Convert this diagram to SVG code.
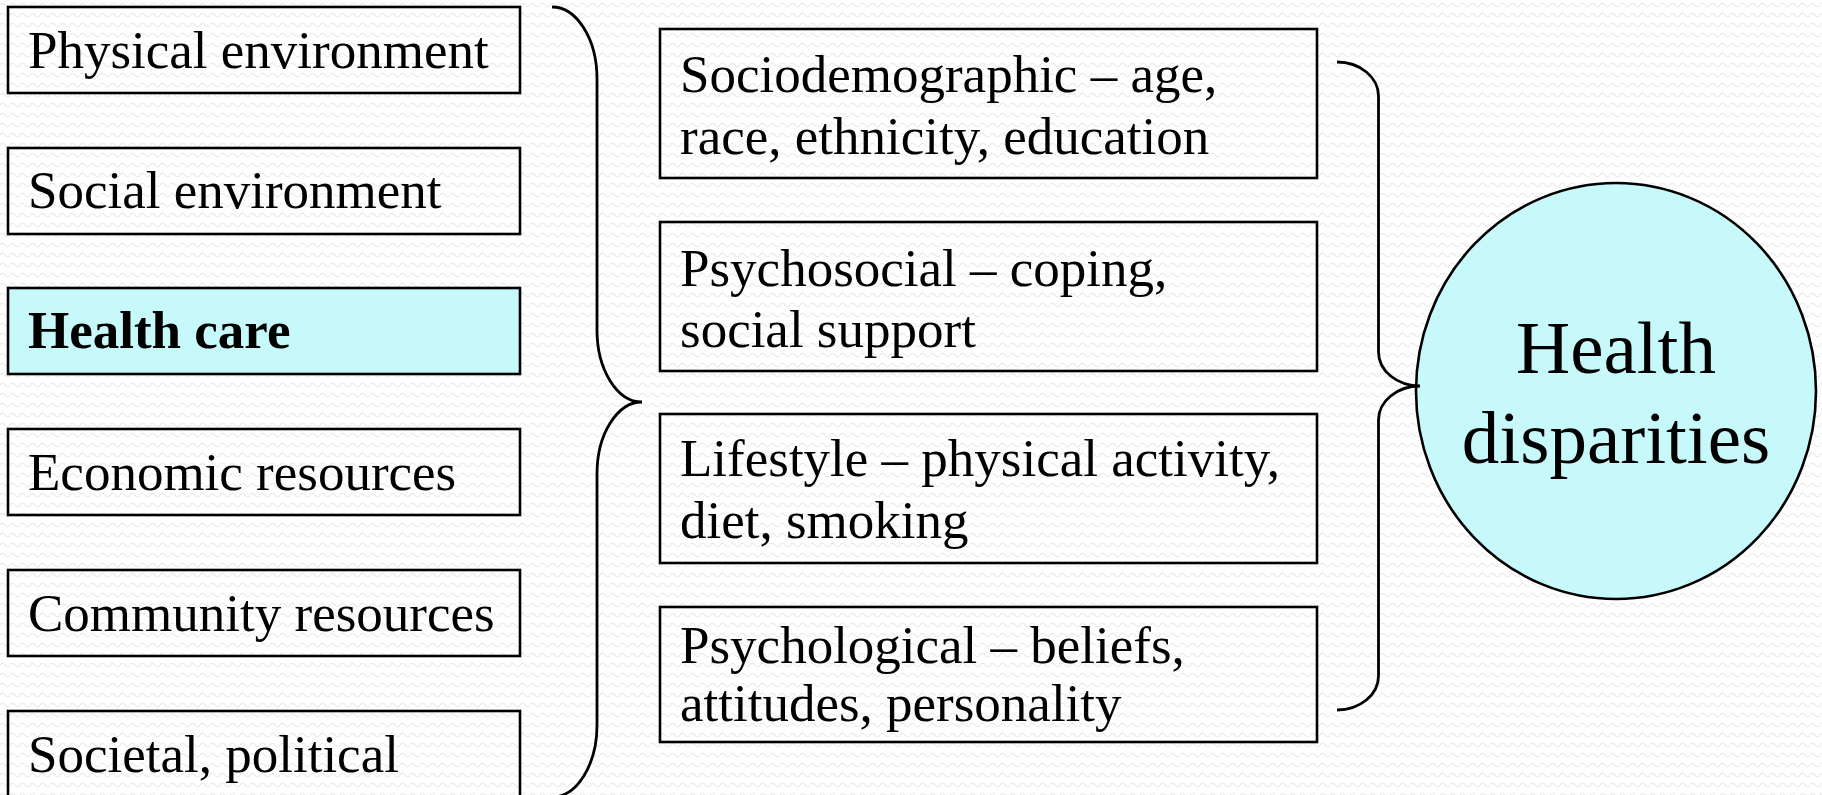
<svg xmlns="http://www.w3.org/2000/svg" width="1822" height="795" viewBox="0 0 1822 795">
  <defs>
    <pattern id="wave" width="10" height="10" patternUnits="userSpaceOnUse">
      <path d="M0,5 Q2.5,1.5 5,5 T10,5" fill="none" stroke="#e9e9e9" stroke-width="1.2"/>
    </pattern>
    <style>
      .box { fill: none; stroke: #000; stroke-width: 2.6; }
      .hi { fill: #c8f9fa; }
      .lbl { font-family: "Liberation Serif", "Times New Roman", serif; font-size: 53px; fill: #000; }
      .bold { font-weight: bold; }
      .big { font-family: "Liberation Serif", "Times New Roman", serif; font-size: 75px; fill: #000; text-anchor: middle; }
      .brace { fill: none; stroke: #000; stroke-width: 2.8; }
    </style>
  </defs>

  <!-- textured background -->
  <rect width="1822" height="795" fill="#ffffff"/>
  <rect width="1822" height="795" fill="url(#wave)"/>

  <!-- left column: determinants -->
  <g id="physical-environment">
    <rect class="box" x="8" y="7" width="512" height="86"/>
    <text class="lbl" x="28" y="68">Physical environment</text>
  </g>
  <g id="social-environment">
    <rect class="box" x="8" y="148" width="512" height="86"/>
    <text class="lbl" x="28" y="208">Social environment</text>
  </g>
  <g id="health-care">
    <rect class="box hi" x="8" y="288" width="512" height="86"/>
    <text class="lbl bold" x="28" y="348">Health care</text>
  </g>
  <g id="economic-resources">
    <rect class="box" x="8" y="429" width="512" height="86"/>
    <text class="lbl" x="28" y="490">Economic resources</text>
  </g>
  <g id="community-resources">
    <rect class="box" x="8" y="570" width="512" height="86"/>
    <text class="lbl" x="28" y="631">Community resources</text>
  </g>
  <g id="societal-political">
    <rect class="box" x="8" y="711" width="512" height="110"/>
    <text class="lbl" x="28" y="772">Societal, political</text>
  </g>

  <!-- middle column: individual factors -->
  <g id="sociodemographic">
    <rect class="box" x="660" y="29" width="657" height="149"/>
    <text class="lbl" x="680" y="92">Sociodemographic – age,</text>
    <text class="lbl" x="680" y="154">race, ethnicity, education</text>
  </g>
  <g id="psychosocial">
    <rect class="box" x="660" y="222" width="657" height="149"/>
    <text class="lbl" x="680" y="286">Psychosocial – coping,</text>
    <text class="lbl" x="680" y="347">social support</text>
  </g>
  <g id="lifestyle">
    <rect class="box" x="660" y="414" width="657" height="149"/>
    <text class="lbl" x="680" y="476">Lifestyle – physical activity,</text>
    <text class="lbl" x="680" y="538">diet, smoking</text>
  </g>
  <g id="psychological">
    <rect class="box" x="660" y="607" width="657" height="135"/>
    <text class="lbl" x="680" y="663">Psychological – beliefs,</text>
    <text class="lbl" x="680" y="721">attitudes, personality</text>
  </g>

  <!-- outcome -->
  <g id="health-disparities">
    <ellipse cx="1616" cy="391" rx="200" ry="208" fill="#c8f9fa" stroke="#000" stroke-width="2.6"/>
    <text class="big" x="1616" y="373">Health</text>
    <text class="big" x="1616" y="463">disparities</text>
  </g>

  <!-- connectors: grouping braces -->
  <g id="connectors">
    <path class="brace" d="M552,7 A45,72 0 0 1 597,79 L597,330 A45,72 0 0 0 642,402 A45,72 0 0 0 597,474 L597,725 A45,72 0 0 1 552,797"/>
    <path class="brace" d="M1337,62 A41.5,34 0 0 1 1378.5,96 L1378.5,352 A41.5,34 0 0 0 1420,386 A41.5,34 0 0 0 1378.5,420 L1378.5,676 A41.5,34 0 0 1 1337,710"/>
  </g>
</svg>
